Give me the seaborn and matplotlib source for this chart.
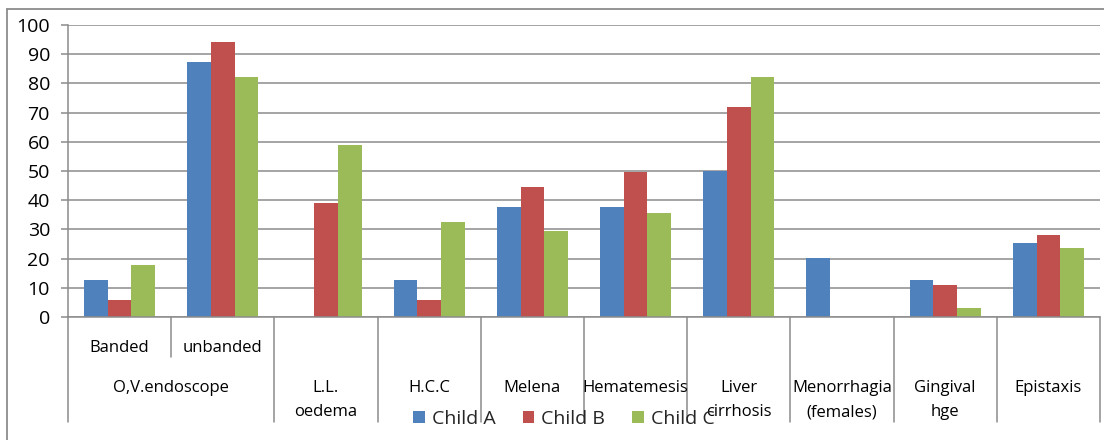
import matplotlib
matplotlib.use("Agg")
import matplotlib.pyplot as plt
from matplotlib.lines import Line2D
from matplotlib.transforms import blended_transform_factory
import numpy as np
import pandas as pd
import seaborn as sns

# Bar categories (left to right) and the labels drawn under them
bar_keys = ["Banded", "unbanded", "L.L. oedema", "H.C.C", "Melena", "Hematemesis",
            "Liver cirrhosis", "Menorrhagia (females)", "Gingival hge", "Epistaxis"]
sub_labels = ["Banded", "unbanded"]
group_labels = ["O,V.endoscope", "L.L.\noedema", "H.C.C", "Melena", "Hematemesis",
                "Liver\ncirrhosis", "Menorrhagia\n(females)", "Gingival\nhge", "Epistaxis"]

series_names = ["Child A", "Child B", "Child C"]
child_a = [12.8, 87.3, 0, 12.8, 37.7, 37.7, 50.0, 20.3, 12.8, 25.4]
child_b = [5.9, 94.1, 39.1, 5.9, 44.6, 49.8, 72.0, 0, 11.0, 28.2]
child_c = [17.9, 82.2, 58.9, 32.7, 29.4, 35.7, 82.2, 0, 3.2, 23.7]
y_ticks = [0, 10, 20, 30, 40, 50, 60, 70, 80, 90, 100]

palette = ["#4F81BD", "#C0504D", "#9BBB59"]
GRAY = "#8C8C8C"

df = pd.DataFrame({
    "category": bar_keys * 3,
    "series": np.repeat(series_names, len(bar_keys)),
    "value": child_a + child_b + child_c,
})

sns.set_style("white")
plt.rcParams["font.family"] = ["Open Sans", "DejaVu Sans"]

W, H = 1104, 440
fig = plt.figure(figsize=(W / 100, H / 100), dpi=100)
ax = fig.add_axes([68 / W, 1 - 317 / H, (1100 - 68) / W, 292 / H])

sns.barplot(data=df, x="category", y="value", hue="series", order=bar_keys,
            hue_order=series_names, palette=palette, saturation=1,
            width=0.69, linewidth=0, ax=ax, legend=False, errorbar=None)

ax.set_xlim(-0.5, len(bar_keys) - 0.5)
ax.set_ylim(0, 100)
ax.set_yticks(y_ticks)
ax.set_yticklabels([str(t) for t in y_ticks], fontsize=14, color="black")
ax.set_xticks([])
ax.set_xlabel("")
ax.set_ylabel("")
ax.yaxis.grid(True, color=GRAY, linewidth=1.1)
ax.set_axisbelow(True)
ax.tick_params(axis="y", which="both", left=True, length=5, width=1.1,
               color=GRAY, pad=8)
for side in ("top", "right"):
    ax.spines[side].set_visible(False)
for side in ("left", "bottom"):
    ax.spines[side].set_color(GRAY)
    ax.spines[side].set_linewidth(1.1)

# Category table under the axis: x in data units, y in figure pixels
trans = blended_transform_factory(ax.transData, fig.transFigure)

def fy(px):
    return 1 - px / H

axis_y = 317
# full-height separators between top-level groups
for b in [-0.5] + [x + 0.5 for x in range(1, len(bar_keys))]:
    ax.add_line(Line2D([b, b], [fy(axis_y), fy(422)], transform=trans,
                       color=GRAY, linewidth=1.1, clip_on=False))
# short separator between the two endoscope sub-groups
ax.add_line(Line2D([0.5, 0.5], [fy(axis_y), fy(357)], transform=trans,
                   color=GRAY, linewidth=1.1, clip_on=False))

for i, lab in enumerate(sub_labels):
    ax.text(i, fy(352), lab, transform=trans, ha="center", va="baseline",
            fontsize=12, color="black")

group_centers = [0.5] + list(range(2, len(bar_keys)))
for xc, lab in zip(group_centers, group_labels):
    for j, line in enumerate(lab.split("\n")):
        ax.text(xc, fy(392 + 24 * j), line, transform=trans, ha="center",
                va="baseline", fontsize=12, color="black")

# Outer chart frame (left and top edges)
fig.add_artist(Line2D([7 / W, 7 / W], [0, fy(9)], transform=fig.transFigure,
                      color=GRAY, linewidth=1.3))
fig.add_artist(Line2D([7 / W, 1], [fy(9), fy(9)], transform=fig.transFigure,
                      color=GRAY, linewidth=1.3))

handles = [plt.Rectangle((0, 0), 1, 1, facecolor=c, edgecolor="none") for c in palette]
fig.legend(handles, series_names, loc="center", bbox_to_anchor=(564 / W, fy(419)),
           ncol=3, frameon=False, fontsize=14, handlelength=0.6, handleheight=0.6,
           handletextpad=0.35, columnspacing=1.4, borderpad=0)

fig.savefig("out.png", dpi=100, facecolor="white")
